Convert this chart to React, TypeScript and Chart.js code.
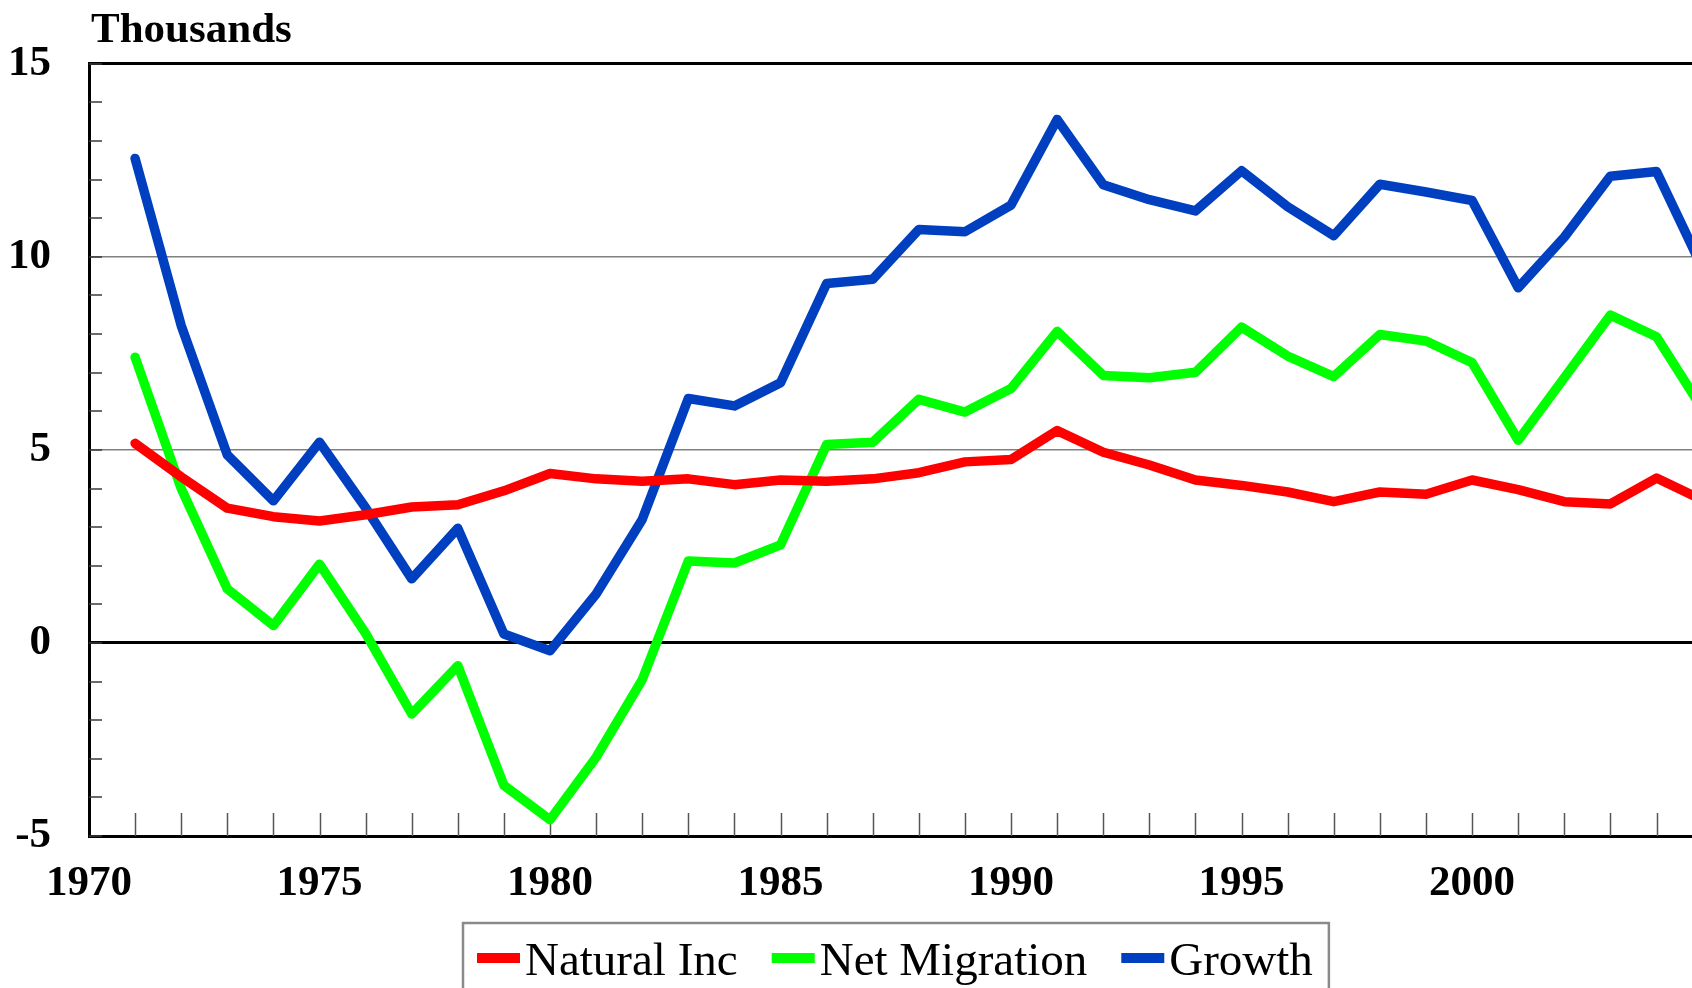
import React, { useEffect, useRef } from 'react';
import { Chart, registerables } from 'chart.js';

Chart.register(...registerables);

// ---- data (thousands) ----
const years = [
  1971, 1972, 1973, 1974, 1975, 1976, 1977, 1978, 1979, 1980,
  1981, 1982, 1983, 1984, 1985, 1986, 1987, 1988, 1989, 1990,
  1991, 1992, 1993, 1994, 1995, 1996, 1997, 1998, 1999, 2000,
  2001, 2002, 2003, 2004, 2005,
];
const naturalInc = [
  5.17, 4.3, 3.49, 3.27, 3.16, 3.32, 3.52, 3.58, 3.94, 4.39,
  4.25, 4.19, 4.25, 4.1, 4.22, 4.19, 4.25, 4.41, 4.69, 4.75,
  5.5, 4.94, 4.61, 4.22, 4.08, 3.91, 3.66, 3.91, 3.85, 4.22,
  3.97, 3.66, 3.6, 4.27, 3.7,
];
const netMigration = [
  7.4, 4.0, 1.4, 0.45, 2.04, 0.25, -1.84, -0.59, -3.69, -4.58,
  -2.96, -0.95, 2.12, 2.07, 2.54, 5.14, 5.2, 6.31, 5.98, 6.59,
  8.07, 6.93, 6.87, 7.01, 8.18, 7.43, 6.9, 7.99, 7.82, 7.26,
  5.25, 6.87, 8.49, 7.93, 6.05,
];
const growth = [
  12.55, 8.22, 4.87, 3.68, 5.2, 3.5, 1.66, 2.97, 0.23, -0.2,
  1.27, 3.2, 6.33, 6.14, 6.74, 9.31, 9.42, 10.71, 10.65, 11.34,
  13.56, 11.87, 11.48, 11.19, 12.23, 11.3, 10.55, 11.88, 11.68, 11.46,
  9.2, 10.51, 12.09, 12.21, 9.7,
];

const seriesNames = ['Natural Inc', 'Net Migration', 'Growth'];
const seriesColors = ['#ff0000', '#00ff00', '#0040c0'];
const seriesValues = [naturalInc, netMigration, growth];

// ---- axis ticks ----
const xMin = 1970;
const xMax = 2004.77;
const xTickValues = [
  1970, 1971, 1972, 1973, 1974, 1975, 1976, 1977, 1978, 1979,
  1980, 1981, 1982, 1983, 1984, 1985, 1986, 1987, 1988, 1989,
  1990, 1991, 1992, 1993, 1994, 1995, 1996, 1997, 1998, 1999,
  2000, 2001, 2002, 2003, 2004,
];
const xLabelValues = [1970, 1975, 1980, 1985, 1990, 1995, 2000];
const yMin = -5;
const yMax = 15;
const yTickValues = [-5, 0, 5, 10, 15];
const yMinorTicks = [
  -5, -4, -3, -2, -1, 0, 1, 2, 3, 4, 5, 6, 7, 8, 9, 10, 11, 12, 13, 14, 15,
];
const yUnitTitle = 'Thousands';

const SERIF = '"Liberation Serif", "Times New Roman", serif';

const decorPlugin = {
  id: 'decor',
  beforeDatasetsDraw(chart: any) {
    const { ctx, chartArea, scales } = chart;
    const x = scales.x;
    const y = scales.y;
    ctx.save();
    ctx.strokeStyle = '#3a3a3a';
    ctx.lineWidth = 1.5;
    yMinorTicks.forEach((v) => {
      const py = Math.round(y.getPixelForValue(v));
      ctx.beginPath();
      ctx.moveTo(chartArea.left, py);
      ctx.lineTo(chartArea.left + 13, py);
      ctx.stroke();
    });
    ctx.strokeStyle = '#555555';
    xTickValues.forEach((v) => {
      if (v === xMin) return;
      const px = Math.round(x.getPixelForValue(v)) + 0.5;
      ctx.beginPath();
      ctx.moveTo(px, chartArea.bottom);
      ctx.lineTo(px, chartArea.bottom - 23);
      ctx.stroke();
    });
    ctx.restore();
  },
  afterDraw(chart: any) {
    const { ctx, chartArea } = chart;
    ctx.save();
    // unit title
    ctx.fillStyle = '#000';
    ctx.font = `bold 43px ${SERIF}`;
    ctx.textAlign = 'left';
    ctx.textBaseline = 'alphabetic';
    ctx.fillText(yUnitTitle, chartArea.left + 2, 42);

    // legend
    ctx.font = `47px ${SERIF}`;
    const boxLeft = 463;
    const boxTop = 923;
    let cx = boxLeft + 14;
    const baseline = 975;
    seriesNames.forEach((name, i) => {
      ctx.fillStyle = seriesColors[i];
      ctx.fillRect(cx, 953, 43, 10);
      ctx.fillStyle = '#000';
      ctx.fillText(name, cx + 48, baseline);
      const w = ctx.measureText(name).width;
      cx = cx + 48 + w + (i < seriesNames.length - 1 ? 34 : 16);
    });
    ctx.strokeStyle = '#8a8a8a';
    ctx.lineWidth = 2.5;
    ctx.strokeRect(boxLeft, boxTop, cx - boxLeft, 120);
    ctx.restore();
  },
};

export default function App() {
  const canvasRef = useRef<HTMLCanvasElement | null>(null);

  useEffect(() => {
    const canvas = canvasRef.current;
    if (!canvas) return;
    const datasets = seriesNames.map((name, i) => ({
      label: name,
      data: years.map((yr, j) => ({ x: yr, y: seriesValues[i][j] })),
      borderColor: seriesColors[i],
      backgroundColor: seriesColors[i],
      borderWidth: 9.5,
      pointRadius: 0,
      tension: 0,
      borderJoinStyle: 'round' as const,
      borderCapStyle: 'round' as const,
      fill: false,
    }));

    const chart = new Chart(canvas, {
      type: 'line',
      data: { datasets },
      plugins: [decorPlugin],
      options: {
        animation: false,
        responsive: false,
        devicePixelRatio: 1,
        layout: { padding: { top: 59, left: 0, right: 0, bottom: 0 } },
        plugins: {
          legend: { display: false },
          tooltip: { enabled: false },
          title: { display: false },
        },
        scales: {
          x: {
            type: 'linear',
            min: xMin,
            max: xMax,
            afterBuildTicks: (scale: any) => {
              scale.ticks = xTickValues.map((v) => ({ value: v }));
            },
            afterFit: (scale: any) => {
              scale.height = 152;
            },
            ticks: {
              autoSkip: false,
              maxRotation: 0,
              minRotation: 0,
              padding: 22,
              color: '#000',
              font: { family: SERIF, size: 43, weight: 'bold' },
              callback: (v: any) => (xLabelValues.includes(Number(v)) ? String(v) : ''),
            },
            grid: { display: false, drawTicks: false },
            border: { display: true, color: '#000', width: 3 },
          },
          y: {
            type: 'linear',
            min: yMin,
            max: yMax,
            afterBuildTicks: (scale: any) => {
              scale.ticks = yTickValues.map((v) => ({ value: v }));
            },
            afterFit: (scale: any) => {
              scale.width = 89;
            },
            ticks: {
              padding: 38,
              color: '#000',
              font: { family: SERIF, size: 43, weight: 'bold' },
              callback: (v: any) => String(v),
            },
            grid: {
              drawTicks: false,
              color: (c: any) =>
                c.tick && (c.tick.value === 0 || c.tick.value === 15)
                  ? '#000000'
                  : c.tick && c.tick.value === -5
                  ? 'rgba(0,0,0,0)'
                  : '#808080',
              lineWidth: (c: any) =>
                c.tick && (c.tick.value === 0 || c.tick.value === 15) ? 3 : 1.5,
            },
            border: { display: true, color: '#000', width: 3 },
          },
        },
      },
    });
    return () => chart.destroy();
  }, []);

  return (
    <div style={{ position: 'fixed', left: 0, top: 0, width: 1692, height: 988, overflow: 'hidden', background: '#fff' }}>
      <canvas ref={canvasRef} width={1692} height={988} style={{ display: 'block' }} />
    </div>
  );
}
